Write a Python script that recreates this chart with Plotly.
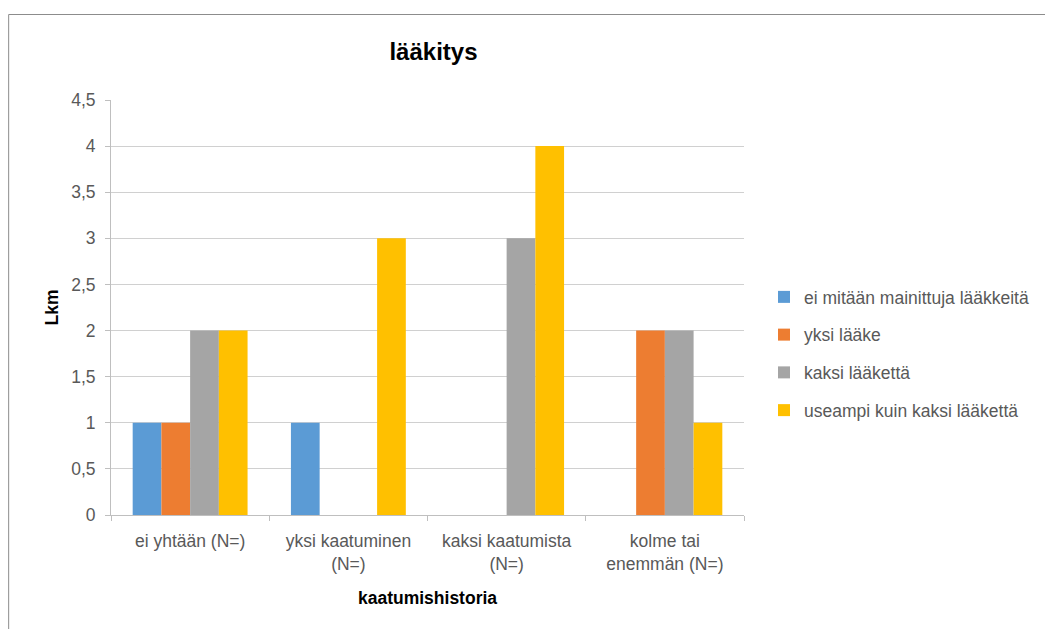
import plotly.graph_objects as go

categories = ["ei yhtään (N=)", "yksi kaatuminen<br>(N=)", "kaksi kaatumista<br>(N=)", "kolme tai<br>enemmän (N=)"]
series_names = ["ei mitään mainittuja lääkkeitä", "yksi lääke", "kaksi lääkettä", "useampi kuin kaksi lääkettä"]
vals_none = [1, 1, 0, 0]
vals_one = [1, 0, 0, 2]
vals_two = [2, 0, 3, 2]
vals_more = [2, 3, 4, 1]
colors = ["#5B9BD5", "#ED7D31", "#A5A5A5", "#FFC000"]

W, H = 1045, 629
L, R, T, B = 111, 300, 100, 114
pw, ph = W - L - R, H - T - B

FONT = "Liberation Sans"
TXT = "#595959"
FS = 17.5

fig = go.Figure()
for i, (name, vals) in enumerate(zip(series_names, [vals_none, vals_one, vals_two, vals_more])):
    fig.add_trace(go.Bar(x=categories, y=vals, name=name, marker_color=colors[i],
                         marker_line_width=0, legendgroup=f"g{i}"))

def px_x(p):
    return (p - L) / pw

def px_y(p):
    return (H - B - p) / ph

fig.update_layout(
    width=W, height=H,
    margin=dict(l=L, r=R, t=T, b=B),
    paper_bgcolor="white", plot_bgcolor="white",
    barmode="group", bargap=0.274, bargroupgap=0,
    font=dict(family=FONT, size=FS, color=TXT),
    title=dict(text="<b>lääkitys</b>", xref="paper", x=px_x(434), xanchor="center",
               yref="container", y=1 - 52 / H, yanchor="middle",
               font=dict(family=FONT, size=24, color="#000000")),
    xaxis=dict(
        type="category", tickson="boundaries", ticks="outside", ticklen=5,
        tickcolor="#bfbfbf", showline=True, linecolor="#bfbfbf", linewidth=1,
        showgrid=False, tickfont=dict(size=FS, color=TXT), ticklabelstandoff=10,
        title=dict(text="<b>kaatumishistoria</b>", standoff=18,
                   font=dict(size=FS, color="#000000")),
    ),
    yaxis=dict(
        range=[0, 4.5], dtick=0.5, tickformat=".1~f",
        ticks="outside", ticklen=5, tickcolor="#bfbfbf",
        showline=True, linecolor="#bfbfbf", linewidth=1,
        showgrid=True, gridcolor="#d0d0d0", gridwidth=1, zeroline=False,
        tickfont=dict(size=FS, color=TXT), ticklabelstandoff=6,
        title=dict(text="<b>Lkm</b>", standoff=8, font=dict(size=FS, color="#000000")),
    ),
    separators=", ",
    legend=dict(x=px_x(764), xanchor="left", y=px_y(279), yanchor="top",
                font=dict(size=FS, color=TXT), tracegroupgap=12,
                itemwidth=30, bgcolor="rgba(0,0,0,0)"),
    showlegend=True,
)

# chart frame (cropped at right and bottom in the reference)
fig.add_shape(type="line", xref="paper", yref="paper",
              x0=px_x(8.5), x1=px_x(1060), y0=px_y(14.5), y1=px_y(14.5),
              line=dict(color="#8c8c8c", width=1))
fig.add_shape(type="line", xref="paper", yref="paper",
              x0=px_x(8.5), x1=px_x(8.5), y0=px_y(14.5), y1=px_y(640),
              line=dict(color="#8c8c8c", width=1))

fig.write_html("out.html")
